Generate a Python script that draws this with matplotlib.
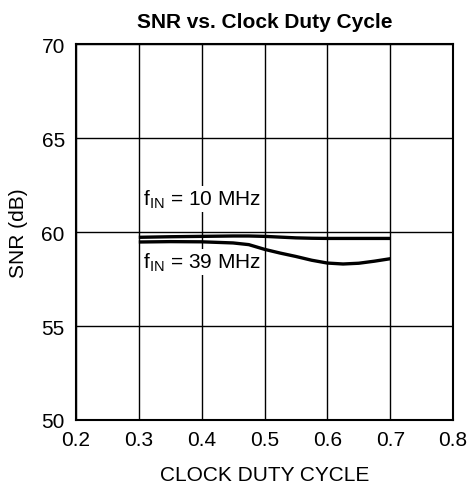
import matplotlib
matplotlib.use('Agg')
import matplotlib.pyplot as plt

plt.rcParams['font.family'] = ['Liberation Sans', 'DejaVu Sans']

# duty cycle vs SNR
duty = [0.30, 0.35, 0.40, 0.45, 0.475, 0.50, 0.525, 0.55, 0.575, 0.60, 0.625, 0.65, 0.675, 0.70]
snr_10mhz = [59.72, 59.75, 59.77, 59.79, 59.79, 59.77, 59.73, 59.69, 59.67, 59.66, 59.66, 59.66, 59.66, 59.66]
snr_39mhz = [59.47, 59.49, 59.48, 59.42, 59.33, 59.08, 58.88, 58.70, 58.50, 58.35, 58.30, 58.34, 58.45, 58.58]

xticks = [0.2, 0.3, 0.4, 0.5, 0.6, 0.7, 0.8]
yticks = [50, 55, 60, 65, 70]

fig = plt.figure(figsize=(4.69, 4.85), dpi=100)
ax = fig.add_axes([0.162, 0.132, 0.804, 0.775])

ax.plot(duty, snr_10mhz, color='black', linewidth=2.4, solid_capstyle='butt',
        solid_joinstyle='round', zorder=3)
ax.plot(duty, snr_39mhz, color='black', linewidth=2.4, solid_capstyle='butt',
        solid_joinstyle='round', zorder=3)

ax.set_xlim(0.2, 0.8)
ax.set_ylim(50, 70)
ax.set_xticks(xticks)
ax.set_yticks(yticks)
ax.set_xticklabels(['%.1f' % t for t in xticks])
ax.grid(True, color='black', linewidth=1.0)
ax.tick_params(length=0, labelsize=15)
ax.tick_params(axis='x', pad=7)
ax.tick_params(axis='y', pad=8)
for s in ax.spines.values():
    s.set_linewidth(1.5)

bb = dict(facecolor='white', edgecolor='none', pad=1)
ax.text(0.306, 61.75, r'f$_{\mathregular{IN}}$ = 10 MHz', fontsize=15, va='center', ha='left',
        bbox=bb, zorder=2)
ax.text(0.306, 58.4, r'f$_{\mathregular{IN}}$ = 39 MHz', fontsize=15, va='center', ha='left',
        bbox=bb, zorder=2)

ax.set_title('SNR vs. Clock Duty Cycle', fontsize=15, fontweight='bold', pad=12)
ax.set_xlabel('CLOCK DUTY CYCLE', fontsize=15, labelpad=12)
ax.set_ylabel('SNR (dB)', fontsize=15, labelpad=10)

fig.savefig('out.png', dpi=100)
